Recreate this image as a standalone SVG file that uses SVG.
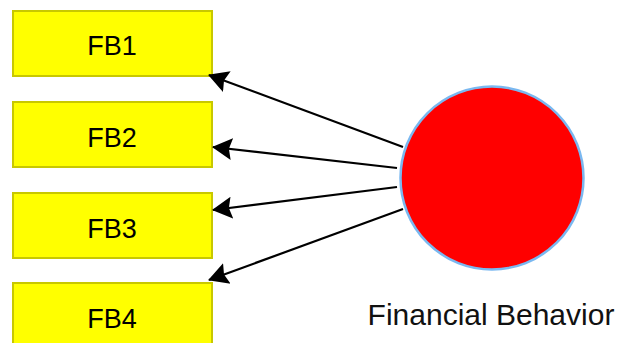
<svg xmlns="http://www.w3.org/2000/svg" width="621" height="343" viewBox="0 0 621 343">
  <style>
    .box { fill: #ffff00; stroke: #c8c800; stroke-width: 2; }
    .lbl { font-family: "Liberation Sans", Arial, sans-serif; font-size: 27px; fill: #000; text-anchor: middle; }
    .edge { stroke: #000; stroke-width: 2.2; fill: none; marker-end: url(#head); }
  </style>
  <defs>
    <marker id="head" viewBox="0 0 20 24" refX="19" refY="12" markerWidth="20" markerHeight="24" orient="auto" markerUnits="userSpaceOnUse">
      <path d="M0,1 L20,12 L0,23 L3,12 Z" fill="#000"/>
    </marker>
  </defs>

  <g id="fb1">
    <rect class="box" x="13" y="11" width="199" height="65"/>
    <text class="lbl" x="112" y="55">FB1</text>
  </g>
  <g id="fb2">
    <rect class="box" x="13" y="102" width="199" height="65"/>
    <text class="lbl" x="112" y="146.5">FB2</text>
  </g>
  <g id="fb3">
    <rect class="box" x="13" y="193" width="199" height="65"/>
    <text class="lbl" x="112" y="237.5">FB3</text>
  </g>
  <g id="fb4">
    <rect class="box" x="13" y="283" width="199" height="65"/>
    <text class="lbl" x="112" y="328">FB4</text>
  </g>

  <g id="financial-behavior">
    <circle cx="492" cy="178" r="91.5" fill="#ff0000" stroke="#7ab8f0" stroke-width="2.5"/>
    <text x="491" y="325" font-family="Liberation Sans, Arial, sans-serif" font-size="30" text-anchor="middle" fill="#111">Financial Behavior</text>
  </g>

  <g id="connectors">
    <line class="edge" x1="403" y1="147" x2="209" y2="75"/>
    <line class="edge" x1="397" y1="168" x2="213" y2="147"/>
    <line class="edge" x1="397" y1="187" x2="213" y2="210"/>
    <line class="edge" x1="403" y1="209" x2="209" y2="280"/>
  </g>
</svg>
